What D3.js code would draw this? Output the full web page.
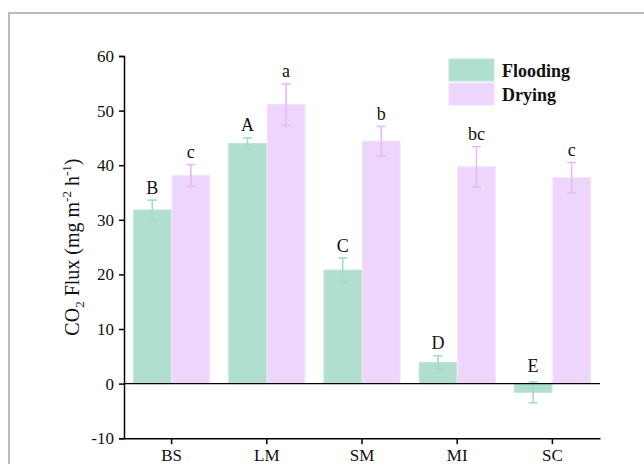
<!DOCTYPE html>
<html>
<head>
<meta charset="utf-8">
<script src="https://cdn.jsdelivr.net/npm/d3@7"></script>
<style>
  html, body { margin: 0; padding: 0; background: #fff; }
  svg { display: block; }
  text { font-family: "Liberation Serif", "Times New Roman", serif; fill: #111; }
</style>
</head>
<body>
<svg id="chart" width="644" height="464"></svg>
<script>
// Sites and treatments
const categories = ["BS", "LM", "SM", "MI", "SC"];
const series = ["Flooding", "Drying"];

// Mean CO2 flux (mg m-2 h-1) and standard errors
const floodingMean = [31.8, 44.0, 20.8, 3.9, -1.6];
const floodingSE   = [1.8, 1.0, 2.2, 1.2, 1.9];
const dryingMean   = [38.1, 51.1, 44.4, 39.7, 37.7];
const dryingSE     = [2.0, 3.8, 2.7, 3.7, 2.8];

// Significance letters
const floodingLetters = ["B", "A", "C", "D", "E"];
const dryingLetters   = ["c", "a", "b", "bc", "c"];

const yTicks = [-10, 0, 10, 20, 30, 40, 50, 60];

const fills   = { Flooding: "#b0dfcf", Drying: "#eed5fc" };
const strokes = { Flooding: "#bfe6d9", Drying: "#f3e0fd" };
const errCol  = { Flooding: "#a6dac8", Drying: "#e2bdf6" };

const SERIF = "'Liberation Serif', 'Times New Roman', serif";

const svg = d3.select("#chart");

// outer frame
svg.append("rect")
  .attr("x", 9).attr("y", 13)
  .attr("width", 700).attr("height", 500)
  .attr("fill", "none")
  .attr("stroke", "#a5a5a5")
  .attr("stroke-width", 1.5);

const plot = { left: 124, right: 600, top: 56, bottom: 438.2 };

const y = d3.scaleLinear().domain([-10, 60]).range([plot.bottom, plot.top]);
const x0 = d3.scaleBand().domain(categories).range([plot.left, plot.right])
  .paddingInner(0.19).paddingOuter(0.095);
const x1 = d3.scaleBand().domain(series).range([0, x0.bandwidth()]);
const xAxisScale = d3.scaleBand().domain(categories).range([plot.left, plot.right]);

const rows = categories.map((c, i) => ({
  cat: c,
  items: [
    { s: "Flooding", v: floodingMean[i], se: floodingSE[i], lab: floodingLetters[i] },
    { s: "Drying", v: dryingMean[i], se: dryingSE[i], lab: dryingLetters[i] }
  ]
}));

const groups = svg.append("g").selectAll("g")
  .data(rows).join("g")
  .attr("transform", d => `translate(${x0(d.cat)},0)`);

// bars
groups.selectAll("rect")
  .data(d => d.items).join("rect")
  .attr("x", d => x1(d.s) + 0.5)
  .attr("width", x1.bandwidth() - 1)
  .attr("y", d => y(Math.max(0, d.v)))
  .attr("height", d => Math.abs(y(d.v) - y(0)))
  .attr("fill", d => fills[d.s])
  .attr("stroke", d => strokes[d.s])
  .attr("stroke-width", 1);

// error bars
const cap = 4.5;
const cx = d => x1(d.s) + x1.bandwidth() / 2;
const eb = groups.selectAll("g.err")
  .data(d => d.items).join("g").attr("class", "err")
  .attr("stroke", d => errCol[d.s])
  .attr("stroke-width", 1.6);
eb.append("line")
  .attr("x1", cx).attr("x2", cx)
  .attr("y1", d => y(d.v - d.se))
  .attr("y2", d => y(d.v + d.se));
eb.append("line")
  .attr("x1", d => cx(d) - cap).attr("x2", d => cx(d) + cap)
  .attr("y1", d => y(d.v + d.se)).attr("y2", d => y(d.v + d.se));
eb.append("line")
  .attr("x1", d => cx(d) - cap).attr("x2", d => cx(d) + cap)
  .attr("y1", d => y(d.v - d.se)).attr("y2", d => y(d.v - d.se));

// significance letters
groups.selectAll("text.lab")
  .data(d => d.items).join("text").attr("class", "lab")
  .attr("x", cx)
  .attr("y", d => y(Math.max(d.v + d.se, 0)) - (d.v < 0 ? 10 : 6.5))
  .attr("text-anchor", "middle")
  .attr("font-size", 18)
  .text(d => d.lab);

// zero line
svg.append("line")
  .attr("x1", plot.left).attr("x2", plot.right)
  .attr("y1", y(0)).attr("y2", y(0))
  .attr("stroke", "#000").attr("stroke-width", 1.2);

// y axis
const yAxis = svg.append("g")
  .attr("transform", `translate(${plot.left},0)`)
  .call(d3.axisLeft(y).tickValues(yTicks).tickSize(5).tickPadding(5).tickFormat(d => String(d)));
yAxis.attr("font-family", SERIF).attr("font-size", 17);
yAxis.select(".domain").attr("stroke", "#000").attr("stroke-width", 1.5);
yAxis.selectAll(".tick line").attr("stroke", "#000").attr("stroke-width", 1.5);
yAxis.selectAll("text").attr("fill", "#111");

// x axis
const xAxis = svg.append("g")
  .attr("transform", `translate(0,${plot.bottom})`)
  .call(d3.axisBottom(xAxisScale).tickSize(6).tickSizeOuter(0).tickPadding(5));
xAxis.attr("font-family", SERIF).attr("font-size", 17);
xAxis.select(".domain").attr("stroke", "#000").attr("stroke-width", 1.5);
xAxis.selectAll(".tick line").attr("stroke", "#000").attr("stroke-width", 1.5);
xAxis.selectAll("text").attr("fill", "#111");

// y axis title
const title = svg.append("text")
  .attr("transform", `translate(79,${(plot.top + plot.bottom) / 2}) rotate(-90)`)
  .attr("text-anchor", "middle")
  .attr("font-size", 20);
title.append("tspan").text("CO");
title.append("tspan").attr("font-size", 13).attr("dy", 5).text("2");
title.append("tspan").attr("dy", -5).text(" Flux (mg m");
title.append("tspan").attr("font-size", 13).attr("dy", -8).text("-2");
title.append("tspan").attr("dy", 8).text(" h");
title.append("tspan").attr("font-size", 13).attr("dy", -8).text("-1");
title.append("tspan").attr("dy", 8).text(")");

// legend
const legend = svg.append("g").attr("transform", "translate(449,59)");
series.forEach((s, i) => {
  const g = legend.append("g").attr("transform", `translate(0,${i * 24})`);
  g.append("rect").attr("width", 45).attr("height", 22)
    .attr("fill", fills[s]).attr("stroke", strokes[s]);
  g.append("text").attr("x", 53).attr("y", 18)
    .attr("font-size", 18).attr("font-weight", "bold")
    .text(s);
});
</script>
</body>
</html>
